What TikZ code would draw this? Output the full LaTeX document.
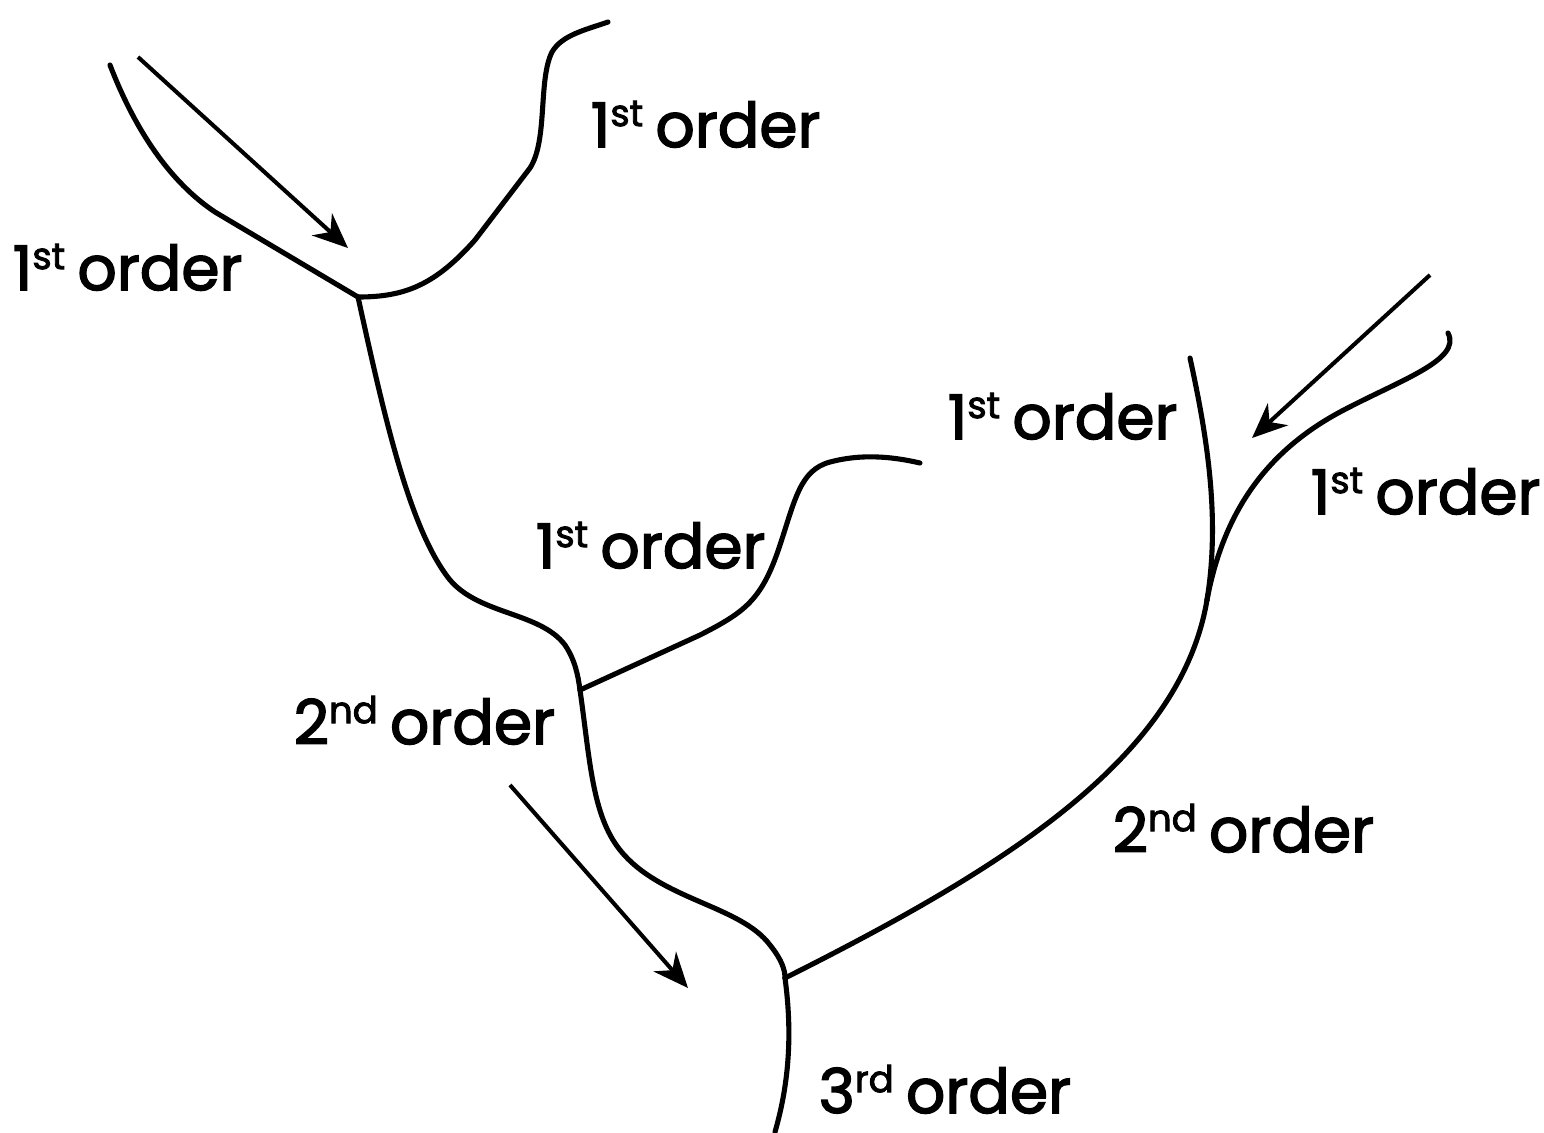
\documentclass[tikz,border=0pt]{standalone}
\usepackage{fontspec}
\setmainfont{Poppins}[FakeBold=2.4]
\usetikzlibrary{arrows.meta}
\newcommand{\ordlabel}[2]{#1\raisebox{0.62ex}{\fontsize{10.5}{10}\selectfont #2}\hspace{0.2em}order}
\tikzset{
  branch/.style={line width=1.45pt, line cap=round},
  flow/.style={line width=1.15pt, -{Stealth[length=10pt,width=8.5pt]}},
  lbl/.style={anchor=base west, inner sep=0pt, font=\fontsize{17.5}{20}\selectfont}
}
\begin{document}
\begin{tikzpicture}[x=0.01cm,y=-0.01cm]
\useasboundingbox (0,0) rectangle (1544,1132);
% junction coordinates
\coordinate (j1) at (358,297);
\coordinate (j2) at (580,690);
\coordinate (j3) at (785,978);
\coordinate (j4) at (1207,600);
% ends
\coordinate (e1) at (110,65);
\coordinate (e2) at (608,22);
\coordinate (e3) at (920,463);
\coordinate (e4) at (1190,358);
\coordinate (e5) at (1448,333);
\coordinate (e6) at (775,1132);
% branches
\draw[branch] (e1) .. controls (135,130) and (170,182) .. (215,212) -- (j1);
\draw[branch] (j1) .. controls (405,297) and (435,285) .. (475,240) -- (530,168)
   .. controls (548,140) and (538,80) .. (552,52) .. controls (562,35) and (585,30) .. (e2);
\draw[branch] (j1) .. controls (385,420) and (410,530) .. (450,580)
   .. controls (480,615) and (540,612) .. (565,645) .. controls (575,660) and (578,675) .. (j2);
\draw[branch] (j2) .. controls (590,760) and (592,815) .. (620,850)
   .. controls (660,900) and (740,905) .. (770,945) .. controls (782,960) and (785,970) .. (j3);
\draw[branch] (j3) .. controls (792,1030) and (790,1080) .. (e6);
\draw[branch] (j2) -- (700,635) .. controls (745,612) and (762,600) .. (780,545)
   .. controls (795,500) and (800,470) .. (830,462) .. controls (860,454) and (890,456) .. (e3);
\draw[branch] (j3) .. controls (1000,870) and (1180,760) .. (j4);
\draw[branch] (j4) .. controls (1220,520) and (1208,440) .. (e4);
\draw[branch] (e5) .. controls (1462,360) and (1400,380) .. (1340,412)
   .. controls (1260,455) and (1222,520) .. (j4);
% arrows
\coordinate (a1s) at (138,57);  \coordinate (a1e) at (348,248);
\coordinate (a2s) at (1430,275); \coordinate (a2e) at (1252,438);
\coordinate (a3s) at (510,785); \coordinate (a3e) at (688,988);
\draw[flow] (a1s) -- (a1e);
\draw[flow] (a2s) -- (a2e);
\draw[flow] (a3s) -- (a3e);
% labels
\node[lbl] (l1) at (590,147) {\ordlabel{1}{st}};
\node[lbl] (l2) at (12,290) {\ordlabel{1}{st}};
\node[lbl] (l3) at (947,439) {\ordlabel{1}{st}};
\node[lbl] (l4) at (1310,514) {\ordlabel{1}{st}};
\node[lbl] (l5) at (535,568) {\ordlabel{1}{st}};
\node[lbl] (l6) at (293,744) {\ordlabel{2}{nd}};
\node[lbl] (l7) at (1112,852) {\ordlabel{2}{nd}};
\node[lbl] (l8) at (818,1113) {\ordlabel{3}{rd}};
\end{tikzpicture}
\end{document}
